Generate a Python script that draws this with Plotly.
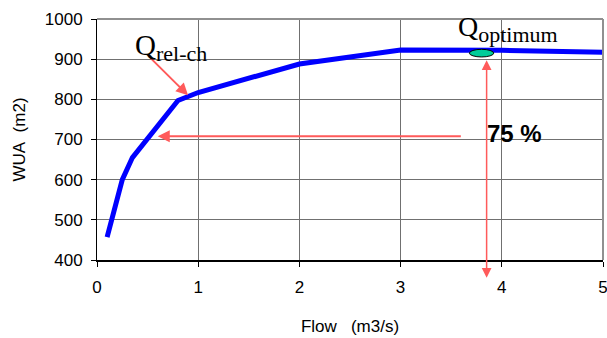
import plotly.graph_objects as go

# Weighted usable area versus discharge
flow = [0.1, 0.25, 0.35, 0.5, 0.8, 1.0, 2.0, 3.0, 4.0, 5.0]
wua = [457, 600, 655, 704, 797, 817, 888, 923, 922, 917]

x_ticks = [0, 1, 2, 3, 4, 5]
y_ticks = [400, 500, 600, 700, 800, 900, 1000]

# Reference flows marked on the curve
q_relch = (0.90, 810)
q_opt = (3.80, 915)
pct_level = 708

SANS = "Liberation Sans, Arial, sans-serif"
SERIF = "Liberation Serif, Times New Roman, serif"
RED = "#FF5A5A"

fig = go.Figure()
fig.add_trace(go.Scatter(
    x=flow, y=wua, mode="lines",
    line=dict(color="#0000FF", width=5),
    hoverinfo="skip", showlegend=False,
))

fig.update_layout(
    width=607, height=338,
    margin=dict(l=97, r=4, t=19, b=78),
    paper_bgcolor="white", plot_bgcolor="white",
    font=dict(family=SANS, size=17, color="black"),
    xaxis=dict(
        range=[0, 5], tickvals=x_ticks, ticktext=[str(v) for v in x_ticks],
        ticklabeloverflow="allow", automargin=False,
        showgrid=True, gridcolor="#707070", gridwidth=1,
        showline=True, linecolor="black", linewidth=2,
        ticks="outside", ticklen=5, tickcolor="black",
        ticklabelstandoff=6,
        zeroline=False,
        title=dict(text="Flow\u00a0\u00a0\u00a0(m3/s)", font=dict(size=17), standoff=24),
    ),
    yaxis=dict(
        range=[400, 1000], tickvals=y_ticks, automargin=False,
        showgrid=True, gridcolor="#707070", gridwidth=1,
        showline=True, linecolor="black", linewidth=1,
        ticks="outside", ticklen=5, tickcolor="black",
        ticklabelstandoff=5,
        zeroline=False,
        title=dict(text="WUA\u00a0\u00a0(m2)", font=dict(size=17), standoff=14),
    ),
)

# Gray frame on the top and right of the plot area
fig.add_shape(type="line", xref="paper", yref="paper", x0=0, x1=1, y0=1, y1=1,
              line=dict(color="#909090", width=2))
fig.add_shape(type="line", xref="paper", yref="paper", x0=1, x1=1, y0=0, y1=1,
              line=dict(color="#909090", width=2))

# Optimum marker
fig.add_shape(type="circle", xref="x", yref="y",
              x0=q_opt[0] - 0.12, x1=q_opt[0] + 0.12,
              y0=q_opt[1] - 9.5, y1=q_opt[1] + 9.5,
              fillcolor="#00CC99", line=dict(color="black", width=1), layer="above")

# Arrow pointing at the bend of the curve
fig.add_annotation(x=q_relch[0], y=q_relch[1], ax=0.52, ay=905,
                   xref="x", yref="y", axref="x", ayref="y",
                   showarrow=True, arrowhead=2, arrowsize=1.2, arrowwidth=2,
                   arrowcolor=RED, text="")

# 75 % level arrow
fig.add_annotation(x=0.60, y=pct_level, ax=3.61, ay=pct_level,
                   xref="x", yref="y", axref="x", ayref="y",
                   showarrow=True, arrowhead=2, arrowsize=1.2, arrowwidth=2,
                   arrowcolor=RED, text="")

# Vertical double arrow under the optimum
fig.add_annotation(x=3.85, y=897, ax=3.85, ay=352,
                   xref="x", yref="y", axref="x", ayref="y",
                   showarrow=True, arrowhead=2, arrowside="end+start",
                   startarrowhead=2, arrowsize=1.3, startarrowsize=1.3, arrowwidth=1.5,
                   arrowcolor=RED, text="")

# Labels
fig.add_annotation(x=0.36, y=930, xref="x", yref="y", xanchor="left", yanchor="middle",
                   showarrow=False,
                   text="Q<sub><span style='font-size:22px'>rel-ch</span></sub>",
                   font=dict(family=SERIF, size=29, color="black"))
fig.add_annotation(x=3.55, y=975, xref="x", yref="y", xanchor="left", yanchor="middle",
                   showarrow=False,
                   text="Q<sub><span style='font-size:22px'>optimum</span></sub>",
                   font=dict(family=SERIF, size=28, color="black"))
fig.add_annotation(x=3.83, y=716, xref="x", yref="y", xanchor="left", yanchor="middle",
                   showarrow=False, text="<b>75 %</b>",
                   font=dict(family=SANS, size=24, color="black"))

fig.write_html("out.html")
